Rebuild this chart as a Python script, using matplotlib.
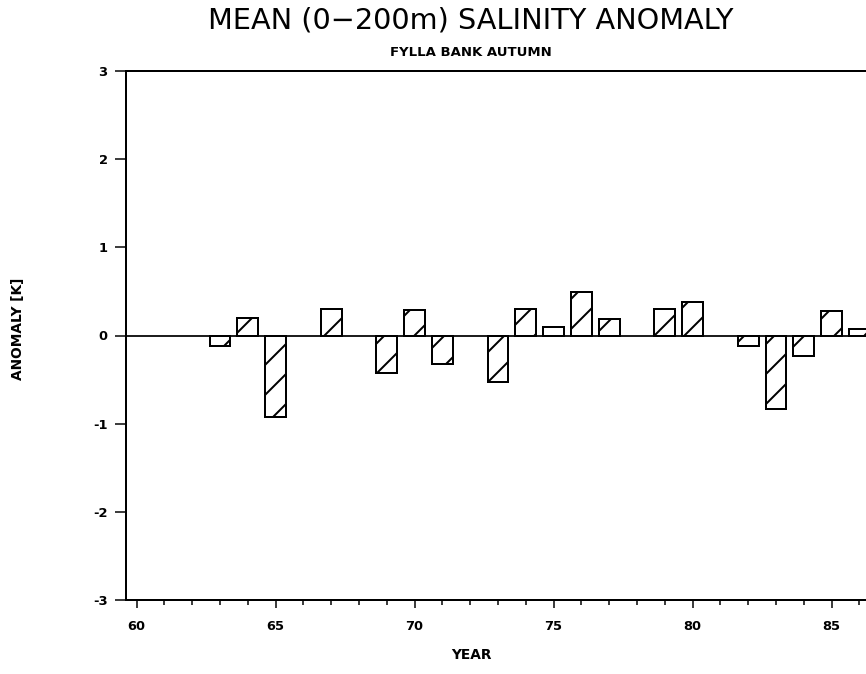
import matplotlib
matplotlib.use("Agg")
import matplotlib.pyplot as plt
from matplotlib.ticker import MultipleLocator, FixedLocator

# ---- data ----
years = [63, 64, 65, 67, 69, 70, 71, 73, 74, 75, 76, 77, 79, 80, 82, 83, 84, 85, 86]
anomaly = [-0.12, 0.20, -0.93, 0.30, -0.43, 0.29, -0.32, -0.53, 0.30, 0.10,
           0.49, 0.19, 0.30, 0.38, -0.12, -0.83, -0.23, 0.28, 0.07]
xticks = [60, 65, 70, 75, 80, 85]
xticklabels = ["60", "65", "70", "75", "80", "85"]
yticks = [-3, -2, -1, 0, 1, 2, 3]
title = "MEAN (0\u2212200m) SALINITY ANOMALY"
subtitle = "FYLLA BANK AUTUMN"
xlabel = "YEAR"
ylabel = "ANOMALY [K]"

DPI = 180
W, H = 866, 674
plt.rcParams["hatch.linewidth"] = 0.8
plt.rcParams["font.family"] = ["DejaVu Sans"]

fig = plt.figure(figsize=(W / DPI, H / DPI), dpi=DPI)
ax_left, ax_right = 126, 880
ax_top, ax_bot = 71, 600
ax = fig.add_axes([ax_left / W, 1 - ax_bot / H, (ax_right - ax_left) / W, (ax_bot - ax_top) / H])

ax.bar(years, anomaly, width=0.75, facecolor="white", edgecolor="black",
       linewidth=0.8, hatch="//", zorder=3)
ax.axhline(0, color="black", linewidth=0.7, zorder=4)

ax.set_xlim(59.62, 86.74)
ax.set_ylim(-3, 3)

ax.xaxis.set_major_locator(FixedLocator(xticks))
ax.set_xticklabels(xticklabels)
ax.xaxis.set_minor_locator(MultipleLocator(1))
ax.set_yticks(yticks)
ax.set_yticklabels([str(v) for v in yticks])

ax.tick_params(axis="x", which="major", direction="out", length=3.2, width=0.6,
               labelsize=5.2, pad=5)
ax.tick_params(axis="x", which="minor", direction="out", length=1.8, width=0.6)
ax.tick_params(axis="y", which="major", direction="out", length=4.4, width=0.6,
               labelsize=5.2, pad=3)
for lab in ax.get_xticklabels() + ax.get_yticklabels():
    lab.set_fontweight("bold")

for side in ["left", "bottom", "top"]:
    ax.spines[side].set_linewidth(0.8)
ax.spines["right"].set_visible(False)

fig.text(471 / W, 1 - 21 / H, title, ha="center", va="center", fontsize=11.5,
         fontweight="normal", color="black")
fig.text(471 / W, 1 - 53 / H, subtitle, ha="center", va="center", fontsize=5.3,
         fontweight="bold")
fig.text(471 / W, 1 - 655 / H, xlabel, ha="center", va="center", fontsize=5.5,
         fontweight="bold")
fig.text(18 / W, 1 - 329 / H, ylabel, ha="center", va="center", fontsize=5.5,
         fontweight="bold", rotation=90)

fig.savefig("out.png", dpi=DPI)
